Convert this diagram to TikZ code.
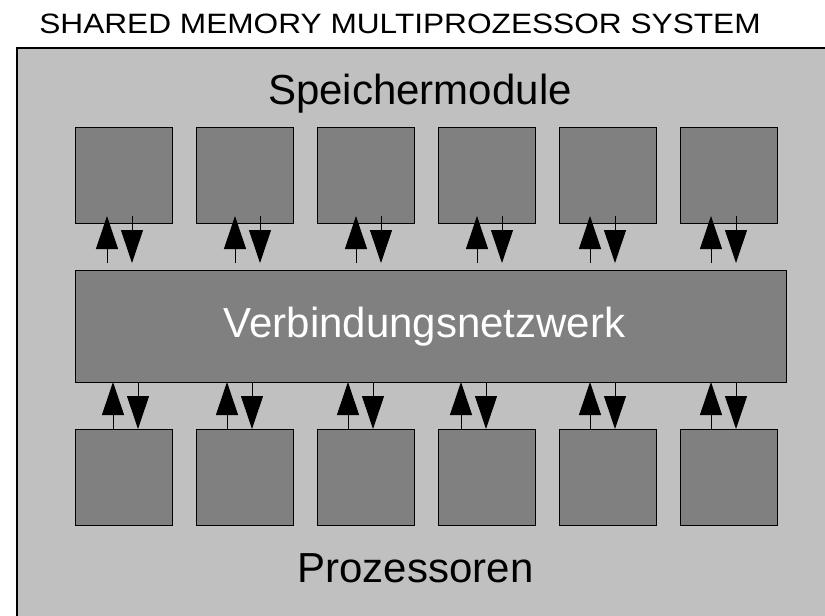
\documentclass[tikz,border=0pt]{standalone}
\usepackage{fontspec}
\setmainfont{Liberation Sans}
\usepackage{graphicx}
\usetikzlibrary{positioning,calc,arrows.meta}
\definecolor{hellgrau}{HTML}{C0C0C0}
\definecolor{dunkelgrau}{HTML}{808080}
\tikzset{
    modul/.style={draw=black, fill=dunkelgrau, line width=1pt,
        minimum width=97pt, minimum height=96pt, inner sep=0pt, outer sep=0pt},
    pfeil/.style={line width=1pt, -{Triangle[length=33pt,width=22pt]}},
    gross/.style={font=\fontsize{42}{50}\selectfont, inner sep=0pt, anchor=base}
}

\begin{document}
\begin{tikzpicture}[x=1pt,y=-1pt]
    \useasboundingbox (0,0) rectangle (825,616);
    \clip (0,0) rectangle (825,616);
    \node[anchor=base, inner sep=0pt, font=\fontsize{28}{34}\selectfont] (titel) at (400,33)
        {\scalebox{1.13}[1]{SHARED MEMORY MULTIPROZESSOR SYSTEM}};
    \draw[fill=hellgrau, line width=1.5pt] (17,48) rectangle (860,660);
    \node[modul, minimum width=711pt, minimum height=112pt] (net) at (430.5,326) {};
    \node[gross, text=white] (netztext) at (424.5,337) {Verbindungsnetzwerk};
    \node[gross] (speicher) at (420,104) {Speichermodule};
    \node[gross] (prozessoren) at (415.5,582) {Prozessoren};
    \foreach \i/\a/\b in {1/32/38, 2/39/31, 3/39/31, 4/39/23, 5/31/31, 6/31/31} {
        \node[modul] (m\i) at ({123.5+121*(\i-1)},175) {};
        \node[modul] (p\i) at ({123.5+121*(\i-1)},477) {};
        \coordinate (mu\i) at ($(m\i.south west)+(\a,0)$);
        \coordinate (md\i) at ($(m\i.south west)+(\a+25,0)$);
        \coordinate (pu\i) at ($(p\i.north west)+(\b,0)$);
        \coordinate (pd\i) at ($(p\i.north west)+(\b+25,0)$);
        \draw[pfeil] ([yshift=7pt]mu\i |- net.north) -- ([yshift=7pt]mu\i);
        \draw[pfeil] ([yshift=7pt]md\i) -- ([yshift=7pt]md\i |- net.north);
        \draw[pfeil] (pu\i) -- (pu\i |- net.south);
        \draw[pfeil] (pd\i |- net.south) -- (pd\i);
    }
\end{tikzpicture}
\end{document}
